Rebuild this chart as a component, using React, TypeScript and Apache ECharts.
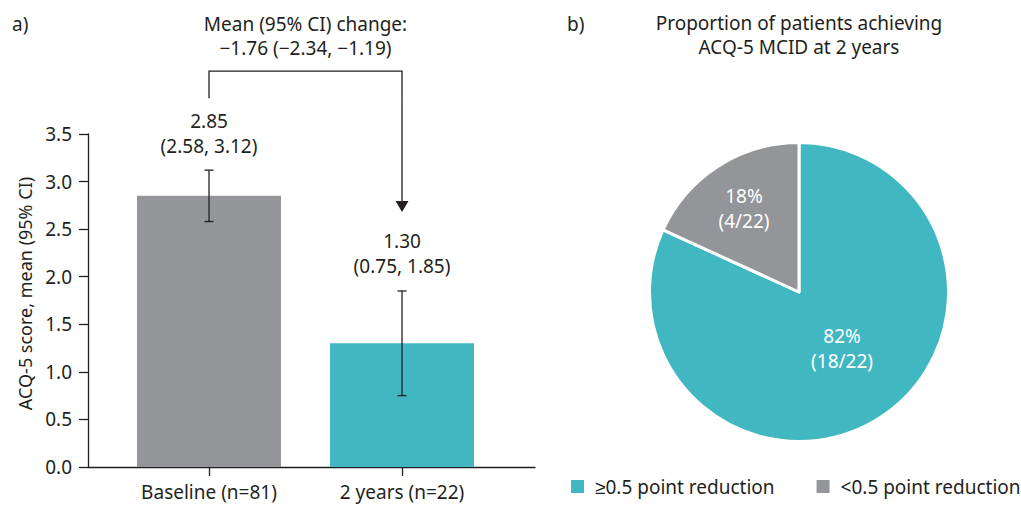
import React, { useEffect, useRef } from "react";
import * as echarts from "echarts";

// Panel a: ACQ-5 score by visit
const categories = ["Baseline (n=81)", "2 years (n=22)"];
const meanScore = [2.85, 1.3];
const ciLower = [2.58, 0.75];
const ciUpper = [3.12, 1.85];

// Change from baseline to 2 years
const changeMean = -1.76;
const changeLower = -2.34;
const changeUpper = -1.19;

// Panel b: MCID responders at 2 years
const pieNames = ["≥0.5 point reduction", "<0.5 point reduction"];
const pieCounts = [18, 4];

const TEAL = "#41B8C1";
const GREY = "#939598";
const INK = "#231F20";
const FONT = "'Noto Sans', sans-serif";
const FS = 19;

const fmt = (v: number) => v.toFixed(2).replace("-", "\u2212");

export default function App() {
  const ref = useRef<HTMLDivElement>(null);

  useEffect(() => {
    if (!ref.current) return;
    const chart = echarts.init(ref.current, undefined, { renderer: "svg" });
    const total = pieCounts.reduce((a, b) => a + b, 0);
    const pieLabelOffsets = [
      [1, -9],
      [-13, -18],
    ];
    const titleStyle = { fontSize: FS, fontWeight: "normal", color: INK, fontFamily: FONT };

    const option: any = {
      animation: false,
      textStyle: { fontFamily: FONT, color: INK },
      title: [
        { text: "a)", left: 12, top: 14, padding: 0, textStyle: titleStyle },
        { text: "b)", left: 567, top: 14, padding: 0, textStyle: titleStyle },
        {
          text: "Proportion of patients achieving\nACQ-5 MCID at 2 years",
          left: 799,
          top: 11,
          padding: 0,
          textAlign: "center",
          textStyle: { ...titleStyle, lineHeight: 24 },
        },
      ],
      legend: {
        data: pieNames,
        left: 569,
        top: 477,
        width: 470,
        orient: "horizontal",
        itemWidth: 15,
        itemHeight: 15,
        itemGap: 40,
        padding: 0,
        selectedMode: false,
        icon: "rect",
        textStyle: { fontSize: FS, color: INK, fontFamily: FONT, padding: [0, 0, 0, 5] },
      },
      grid: { left: 88, top: 134, width: 447, bottom: 38, containLabel: false },
      xAxis: {
        type: "value",
        min: -0.627,
        max: 1.689,
        splitLine: { show: false },
        axisLine: { show: true, onZero: false, lineStyle: { color: INK, width: 1.3 } },
        axisTick: { show: true, customValues: [0, 1], length: 9, lineStyle: { color: INK, width: 1.3 } },
        axisLabel: {
          customValues: [0, 1],
          formatter: (v: number) => categories[Math.round(v)] ?? "",
          fontSize: FS,
          color: INK,
          fontFamily: FONT,
          margin: 15,
        },
      },
      yAxis: {
        type: "value",
        min: 0,
        max: 3.5,
        interval: 0.5,
        name: "ACQ-5 score, mean (95% CI)",
        nameLocation: "middle",
        nameGap: 54,
        nameTextStyle: { fontSize: 18, color: INK, fontFamily: FONT, padding: [0, 0, 0, 14] },
        splitLine: { show: false },
        axisLine: { show: true, onZero: false, lineStyle: { color: INK, width: 1.3 } },
        axisTick: { show: true, length: 9, lineStyle: { color: INK, width: 1.3 } },
        axisLabel: {
          formatter: (v: number) => v.toFixed(1),
          fontSize: FS,
          color: INK,
          fontFamily: FONT,
          margin: 16,
        },
      },
      series: [
        {
          type: "bar",
          barWidth: 144,
          z: 1,
          data: meanScore.map((m, i) => ({
            value: [i, m],
            itemStyle: { color: i === 0 ? GREY : TEAL },
          })),
        },
        {
          // error bars with mean (95% CI) labels above them
          type: "custom",
          clip: false,
          z: 5,
          encode: { x: 0, y: [1, 2] },
          data: meanScore.map((m, i) => [i, ciLower[i], ciUpper[i], m]),
          renderItem: (_params: any, api: any) => {
            const x = api.value(0);
            const lo = api.value(1);
            const hi = api.value(2);
            const m = api.value(3);
            const pLo = api.coord([x, lo]);
            const pHi = api.coord([x, hi]);
            const cap = 4.5;
            const stroke = { stroke: INK, lineWidth: 1.3 };
            return {
              type: "group",
              children: [
                { type: "line", shape: { x1: pLo[0], y1: pLo[1], x2: pHi[0], y2: pHi[1] }, style: stroke },
                { type: "line", shape: { x1: pLo[0] - cap, y1: pLo[1], x2: pLo[0] + cap, y2: pLo[1] }, style: stroke },
                { type: "line", shape: { x1: pHi[0] - cap, y1: pHi[1], x2: pHi[0] + cap, y2: pHi[1] }, style: stroke },
                {
                  type: "text",
                  x: pHi[0],
                  y: pHi[1] - 12,
                  style: {
                    text: `${fmt(m)}\n(${fmt(lo)}, ${fmt(hi)})`,
                    textAlign: "center",
                    textVerticalAlign: "bottom",
                    fontSize: FS,
                    lineHeight: 25,
                    fontFamily: FONT,
                    fill: INK,
                  },
                },
              ],
            };
          },
        },
        {
          // bracket and arrow for the change from baseline
          type: "custom",
          clip: false,
          z: 5,
          encode: { x: 0, y: 1 },
          data: [[0, ciUpper[0], 1, ciUpper[1]]],
          renderItem: (_params: any, api: any) => {
            const pA = api.coord([api.value(0), api.value(1)]);
            const pB = api.coord([api.value(2), api.value(3)]);
            const topA = pA[1] - 12 - 50;
            const topB = pB[1] - 12 - 50;
            const yTop = topA - 37;
            const tipY = topB - 17;
            const head = 11;
            return {
              type: "group",
              children: [
                {
                  type: "polyline",
                  shape: {
                    points: [
                      [pA[0], topA - 10],
                      [pA[0], yTop],
                      [pB[0], yTop],
                      [pB[0], tipY - head + 1],
                    ],
                  },
                  style: { stroke: INK, lineWidth: 1.3, fill: "none" },
                },
                {
                  type: "polygon",
                  shape: {
                    points: [
                      [pB[0] - 6.5, tipY - head],
                      [pB[0] + 6.5, tipY - head],
                      [pB[0], tipY],
                    ],
                  },
                  style: { fill: INK },
                },
                {
                  type: "text",
                  x: (pA[0] + pB[0]) / 2,
                  y: yTop - 11,
                  style: {
                    text: `Mean (95% CI) change:\n${fmt(changeMean)} (${fmt(changeLower)}, ${fmt(changeUpper)})`,
                    textAlign: "center",
                    textVerticalAlign: "bottom",
                    fontSize: FS,
                    lineHeight: 24,
                    fontFamily: FONT,
                    fill: INK,
                  },
                },
              ],
            };
          },
        },
        {
          type: "pie",
          center: [799, 292],
          radius: 149.5,
          startAngle: 90,
          clockwise: true,
          silent: true,
          itemStyle: { borderColor: "#fff", borderWidth: 3 },
          label: {
            show: true,
            position: "inside",
            fontSize: FS,
            lineHeight: 25,
            color: "#fff",
            fontFamily: FONT,
            formatter: (p: any) => {
              const c = pieCounts[p.dataIndex];
              return `${Math.round((c / total) * 100)}%\n(${c}/${total})`;
            },
          },
          labelLine: { show: false },
          data: pieNames.map((name, i) => ({
            name,
            value: pieCounts[i],
            itemStyle: { color: i === 0 ? TEAL : GREY },
            label: { offset: pieLabelOffsets[i] },
          })),
        },
      ],
    };

    chart.setOption(option);
    return () => chart.dispose();
  }, []);

  return (
    <div
      ref={ref}
      style={{ position: "fixed", left: 0, top: 0, width: 1021, height: 505, background: "#fff" }}
    />
  );
}
